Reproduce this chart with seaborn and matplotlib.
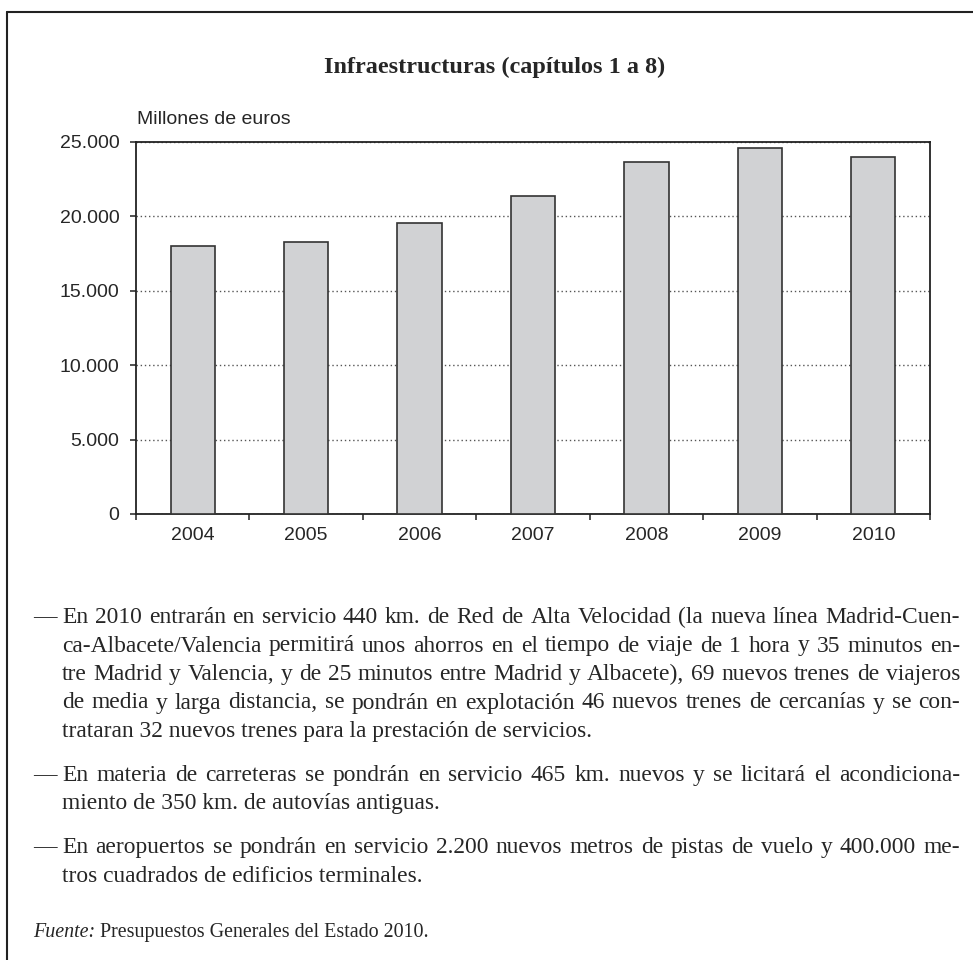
import pandas as pd
import matplotlib.pyplot as plt
from matplotlib.lines import Line2D
from matplotlib.ticker import FuncFormatter, FixedLocator
import seaborn as sns

years = ["2004", "2005", "2006", "2007", "2008", "2009", "2010"]
millones = [18030, 18260, 19580, 21370, 23640, 24580, 23990]
y_ticks = [0, 5000, 10000, 15000, 20000, 25000]

title = "Infraestructuras (capítulos 1 a 8)"
unit_label = "Millones de euros"
paragraphs = [
    ["En 2010 entrarán en servicio 440 km. de Red de Alta Velocidad (la nueva línea Madrid-Cuen-",
     "ca-Albacete/Valencia permitirá unos ahorros en el tiempo de viaje de 1 hora y 35 minutos en-",
     "tre Madrid y Valencia, y de 25 minutos entre Madrid y Albacete), 69 nuevos trenes de viajeros",
     "de media y larga distancia, se pondrán en explotación 46 nuevos trenes de cercanías y se con-",
     "trataran 32 nuevos trenes para la prestación de servicios."],
    ["En materia de carreteras se pondrán en servicio 465 km. nuevos y se licitará el acondiciona-",
     "miento de 350 km. de autovías antiguas."],
    ["En aeropuertos se pondrán en servicio 2.200 nuevos metros de pistas de vuelo y 400.000 me-",
     "tros cuadrados de edificios terminales."],
]
source_label = "Fuente:"
source_text = " Presupuestos Generales del Estado 2010."

sns.set_style("white")
plt.rcParams['font.family'] = ['Liberation Sans', 'DejaVu Sans']

W, H = 973, 960
fig = plt.figure(figsize=(W / 100, H / 100), dpi=100)
fig.patch.set_facecolor("white")


def fx(px):
    return px / W


def fy(py):
    return 1 - py / H


ax = fig.add_axes([fx(136), fy(514), fx(930) - fx(136), fy(142) - fy(514)])
df = pd.DataFrame({"year": years, "value": millones})
sns.barplot(data=df, x="year", y="value", color="#d1d2d4", edgecolor="#333333",
            linewidth=1.2, width=0.39, saturation=1, ax=ax, zorder=3)

ax.set_xlim(-0.5, len(years) - 0.5)
ax.set_ylim(0, 25000)
ax.set_xlabel("")
ax.set_ylabel("")
ax.yaxis.set_major_locator(FixedLocator(y_ticks))
ax.yaxis.set_major_formatter(FuncFormatter(lambda v, p: f"{int(v):,}".replace(",", ".")))
ax.xaxis.set_major_locator(FixedLocator([i - 0.5 for i in range(len(years) + 1)]))
ax.xaxis.set_minor_locator(FixedLocator(range(len(years))))
ax.set_xticklabels([], minor=False)
ax.set_xticklabels(years, minor=True)
ax.tick_params(axis="x", which="major", direction="out", length=4, width=1.2, color="#333333", bottom=True)
ax.tick_params(axis="x", which="minor", length=0, labelsize=14, pad=9, bottom=True)
ax.tick_params(axis="y", direction="out", length=4, width=1.2, color="#333333",
               labelsize=14, pad=8, left=True)
ax.grid(axis="y", linestyle=(0, (1, 2)), color="#555555", linewidth=1, zorder=0)
for s in ax.spines.values():
    s.set_color("#222222")
    s.set_linewidth(1.3)

fig.text(fx(137), fy(124), unit_label, fontsize=14, va="baseline", ha="left")
fig.text(fx(495), fy(73), title, fontsize=17.5, fontweight="bold",
         family="Liberation Serif", ha="center", va="baseline")

# frame around the box
fig.add_artist(Line2D([fx(6.7), 1], [fy(11.5), fy(11.5)], color="#222222", lw=1.5))
fig.add_artist(Line2D([fx(6.7), fx(6.7)], [fy(11.5), 0], color="#222222", lw=1.5))

# body text, justified
serif = "Liberation Serif"
size = 17.5
dash_x, text_x, right_x = 33, 62, 960
baselines = [[623, 651.5, 680, 708.5, 737], [781, 809.5], [853, 881.5]]

fig.canvas.draw()
r = fig.canvas.get_renderer()


def width_of(s, fs, style="normal"):
    t = fig.text(0, 0, s, fontsize=fs, family=serif, style=style)
    w = t.get_window_extent(r).width
    t.remove()
    return w


longest = max(width_of(l, size) for p in paragraphs for l in p[:-1])
if longest > right_x - text_x - 10:
    size = size * (right_x - text_x - 10) / longest

for lines, ys in zip(paragraphs, baselines):
    fig.text(fx(dash_x), fy(ys[0]), "—", fontsize=size, family=serif, va="baseline")
    for i, (line, yb) in enumerate(zip(lines, ys)):
        if i == len(lines) - 1:
            fig.text(fx(text_x), fy(yb), line, fontsize=size, family=serif, va="baseline")
            continue
        words = line.split(" ")
        widths = [width_of(w, size) for w in words]
        gap = (right_x - text_x - sum(widths)) / (len(words) - 1)
        x = text_x
        for w, wd in zip(words, widths):
            fig.text(fx(x), fy(yb), w, fontsize=size, family=serif, va="baseline")
            x += wd + gap

t = fig.text(fx(dash_x), fy(937), source_label, fontsize=size * 0.85, family=serif,
             style="italic", va="baseline")
sw = t.get_window_extent(r).width
fig.text(fx(dash_x + sw), fy(937), source_text, fontsize=size * 0.85, family=serif, va="baseline")

fig.savefig("out.png", dpi=100, facecolor="white")
